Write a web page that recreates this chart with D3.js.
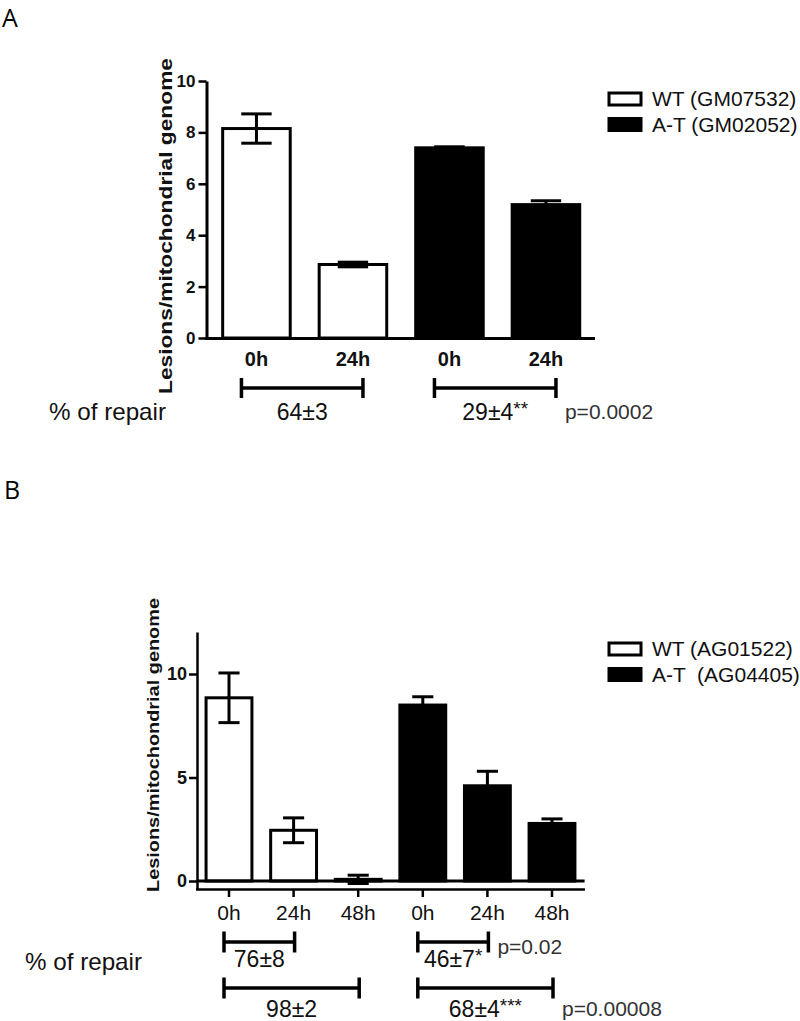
<!DOCTYPE html>
<html>
<head>
<meta charset="utf-8">
<script src="https://cdn.jsdelivr.net/npm/d3@7"></script>
<style>
  body { margin: 0; background: #fff; }
  svg { display: block; }
</style>
</head>
<body>
<svg id="svg1" width="800" height="1021"></svg>
<script>
// ---- data, panel A ----
var labelsA = ["0h", "24h", "0h", "24h"];
var groupsA = ["WT", "WT", "A-T", "A-T"];
var meansA = [8.15, 2.86, 7.40, 5.19];
var errA = [0.57, 0.09, 0.04, 0.15];
var yTicksA = [0, 2, 4, 6, 8, 10];
var legendA = ["WT (GM07532)", "A-T (GM02052)"];
var repairFromA = [0, 2];
var repairToA = [1, 3];
var repairTextA = ["64\u00b13", "29\u00b14"];
var repairStarsA = ["", "**"];
var repairPA = ["", "p=0.0002"];

// ---- data, panel B ----
var labelsB = ["0h", "24h", "48h", "0h", "24h", "48h"];
var groupsB = ["WT", "WT", "WT", "A-T", "A-T", "A-T"];
var meansB = [8.85, 2.45, 0.08, 8.50, 4.60, 2.78];
var errB = [1.2, 0.6, 0.2, 0.4, 0.7, 0.22];
var yTicksB = [0, 5, 10];
var legendB = ["WT (AG01522)", "A-T  (AG04405)"];
var repairFromB = [0, 3, 0, 3];
var repairToB = [1, 4, 2, 5];
var repairRowB = [0, 0, 1, 1];
var repairTextB = ["76\u00b18", "46\u00b17", "98\u00b12", "68\u00b14"];
var repairStarsB = ["", "*", "", "***"];
var repairPB = ["", "p=0.02", "", "p=0.00008"];

var arial = "'Liberation Sans', Arial, sans-serif";
var svg = d3.select("#svg1");

// panel letters
svg.append("text").attr("x", 2).attr("y", 27).text("A")
    .attr("font-family", "'Open Sans', sans-serif").attr("font-size", 25);
svg.append("text").attr("x", 4).attr("y", 499).text("B")
    .attr("font-family", "'Open Sans', sans-serif").attr("font-size", 25);

function fillFor(g) { return g == "WT" ? "#fff" : "#000"; }

// bars + error bars
function drawBars(g, means, errs, groups, x, y, capRatio, sw) {
  var idx = d3.range(means.length);
  g.selectAll(".bar")
      .data(idx)
      .enter()
      .append("rect")
        .attr("class", "bar")
        .attr("x", function(i) { return x(i); })
        .attr("y", function(i) { return y(means[i]); })
        .attr("width", x.bandwidth())
        .attr("height", function(i) { return y(0) - y(means[i]); })
        .attr("fill", function(i) { return fillFor(groups[i]); })
        .attr("stroke", "#000")
        .attr("stroke-width", sw);

  var cap = x.bandwidth() * capRatio;
  var eb = g.selectAll(".err")
      .data(idx)
      .enter()
      .append("g")
        .attr("class", "err")
        .attr("stroke", "#000")
        .attr("stroke-width", sw);
  eb.append("line")
      .attr("x1", function(i) { return x(i) + x.bandwidth() / 2; })
      .attr("x2", function(i) { return x(i) + x.bandwidth() / 2; })
      .attr("y1", function(i) { return y(means[i] + errs[i]); })
      .attr("y2", function(i) { return y(means[i] - errs[i]); });
  [1, -1].forEach(function(s) {
    eb.append("line")
        .attr("x1", function(i) { return x(i) + x.bandwidth() / 2 - cap / 2; })
        .attr("x2", function(i) { return x(i) + x.bandwidth() / 2 + cap / 2; })
        .attr("y1", function(i) { return y(means[i] + s * errs[i]); })
        .attr("y2", function(i) { return y(means[i] + s * errs[i]); });
  });
}

function drawLegend(g, names, x0, y0, rowH) {
  names.forEach(function(n, i) {
    g.append("rect")
        .attr("x", x0).attr("y", y0 + i * rowH)
        .attr("width", 32).attr("height", 12)
        .attr("fill", i == 0 ? "#fff" : "#000")
        .attr("stroke", "#000").attr("stroke-width", 3);
    g.append("text")
        .attr("x", x0 + 43).attr("y", y0 + i * rowH + 13)
        .attr("font-family", arial).attr("font-size", 21)
        .attr("fill", "#111")
        .style("white-space", "pre")
        .text(n);
  });
}

// repair brackets under the axis
function drawRepair(g, x, from, to, texts, stars, ps, rowY, offL, offR, pDy, tick) {
  from.forEach(function(f, k) {
    var x1 = x(f) + x.bandwidth() / 2 + offL;
    var x2 = x(to[k]) + x.bandwidth() / 2 + offR;
    var yy = rowY[k];
    var br = g.append("g").attr("stroke", "#000").attr("stroke-width", 3.5);
    br.append("line").attr("x1", x1).attr("x2", x2).attr("y1", yy).attr("y2", yy);
    br.append("line").attr("x1", x1).attr("x2", x1).attr("y1", yy - tick / 2).attr("y2", yy + tick / 2);
    br.append("line").attr("x1", x2).attr("x2", x2).attr("y1", yy - tick / 2).attr("y2", yy + tick / 2);

    var t = g.append("text")
        .attr("x", (x1 + x2) / 2)
        .attr("y", yy + pDy[0][k])
        .attr("text-anchor", "middle")
        .attr("font-family", arial).attr("font-size", 23)
        .attr("fill", "#111");
    t.append("tspan").text(texts[k]);
    if (stars[k] != "") {
      t.append("tspan").attr("font-size", 19).attr("dy", -5).text(stars[k]);
    }
    if (ps[k] != "") {
      g.append("text")
          .attr("x", x2 + 9)
          .attr("y", yy + pDy[1][k])
          .attr("font-family", arial).attr("font-size", 21)
          .attr("fill", "#333")
          .text(ps[k]);
    }
  });
}

// ================= Panel A =================
var gA = svg.append("g");
var xA = d3.scaleBand().domain(d3.range(labelsA.length))
    .range([208.2, 594.2]).paddingInner(0.3).paddingOuter(0.15);
var yA = d3.scaleLinear().domain([0, 10]).range([338, 81]);

drawBars(gA, meansA, errA, groupsA, xA, yA, 0.45, 3);

var axA = gA.append("g")
    .attr("transform", "translate(206.5,0)")
    .call(d3.axisLeft(yA).tickValues(yTicksA).tickSize(8).tickSizeOuter(0).tickPadding(3));
axA.select(".domain").attr("stroke-width", 3);
axA.selectAll(".tick line").attr("stroke-width", 2.5);
axA.selectAll(".tick text")
    .attr("font-family", arial).attr("font-size", 17).attr("font-weight", "bold").attr("fill", "#111");

var bxA = gA.append("g")
    .attr("transform", "translate(0,338)")
    .call(d3.axisBottom(xA).tickSize(0).tickPadding(14).tickFormat(function(i) { return labelsA[i]; }));
bxA.select(".domain").attr("stroke-width", 3).attr("d", "M205,0.5H595");
bxA.selectAll(".tick text")
    .attr("font-family", arial).attr("font-size", 20).attr("font-weight", "bold").attr("fill", "#111");

gA.append("text")
    .attr("transform", "translate(172,226) rotate(-90)")
    .attr("text-anchor", "middle")
    .attr("font-family", arial).attr("font-size", 18).attr("font-weight", "bold")
    .attr("textLength", 336).attr("lengthAdjust", "spacingAndGlyphs")
    .attr("fill", "#111")
    .text("Lesions/mitochondrial genome");

drawLegend(gA, legendA, 609, 93, 25.5);

gA.append("text").attr("x", 49).attr("y", 420)
    .attr("font-family", arial).attr("font-size", 24).attr("fill", "#111")
    .attr("textLength", 117).attr("lengthAdjust", "spacingAndGlyphs")
    .text("% of repair");

drawRepair(gA, xA, repairFromA, repairToA, repairTextA, repairStarsA, repairPA,
    [388, 388], -15, 10, [[32, 32], [31, 31]], 20);

// ================= Panel B =================
var gB = svg.append("g");
var xB = d3.scaleBand().domain(d3.range(labelsB.length))
    .range([196.7, 584.3]).paddingInner(0.29).paddingOuter(0.145);
var yB = d3.scaleLinear().domain([0, 12]).range([881, 632.6]);

drawBars(gB, meansB, errB, groupsB, xB, yB, 0.46, 3);

// zero line
gB.append("line")
    .attr("x1", 196.7).attr("x2", 584.6)
    .attr("y1", yB(0)).attr("y2", yB(0))
    .attr("stroke", "#000").attr("stroke-width", 3);

var axB = gB.append("g")
    .attr("transform", "translate(197,0)")
    .call(d3.axisLeft(yB).tickValues(yTicksB).tickSize(8).tickSizeOuter(0).tickPadding(2));
axB.select(".domain").attr("stroke-width", 2.5).attr("d", "M0.5,889V632.6");
axB.selectAll(".tick line").attr("stroke-width", 2.5);
axB.selectAll(".tick text")
    .attr("font-family", arial).attr("font-size", 18).attr("font-weight", "bold").attr("fill", "#111");

var bxB = gB.append("g")
    .attr("transform", "translate(0,889)")
    .call(d3.axisBottom(xB).tickSize(8).tickSizeOuter(0).tickPadding(8).tickFormat(function(i) { return labelsB[i]; }));
bxB.select(".domain").attr("stroke-width", 2.5).attr("d", "M196,0.5H585");
bxB.selectAll(".tick line").attr("stroke-width", 2.5);
bxB.selectAll(".tick text")
    .attr("font-family", arial).attr("font-size", 21).attr("fill", "#111");

gB.append("text")
    .attr("transform", "translate(159,745) rotate(-90)")
    .attr("text-anchor", "middle")
    .attr("font-family", arial).attr("font-size", 17).attr("font-weight", "bold")
    .attr("textLength", 294).attr("lengthAdjust", "spacingAndGlyphs")
    .attr("fill", "#111")
    .text("Lesions/mitochondrial genome");

drawLegend(gB, legendB, 609, 643, 25.5);

gB.append("text").attr("x", 25).attr("y", 970)
    .attr("font-family", arial).attr("font-size", 24).attr("fill", "#111")
    .attr("textLength", 117).attr("lengthAdjust", "spacingAndGlyphs")
    .text("% of repair");

var rowYB = repairRowB.map(function(r) { return r == 0 ? 942 : 988; });
drawRepair(gB, xB, repairFromB, repairToB, repairTextB, repairStarsB, repairPB,
    rowYB, -5, 1, [[25, 25, 29, 29], [12, 12, 28, 28]], 21);
</script>
</body>
</html>
